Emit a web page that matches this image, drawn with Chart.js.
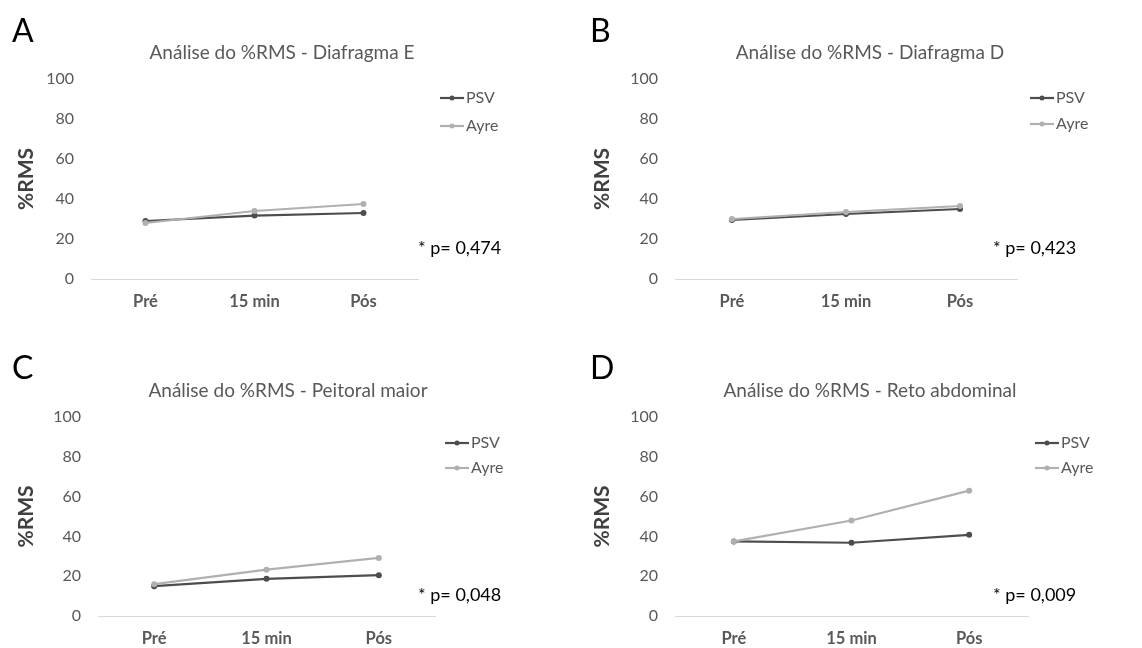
<!DOCTYPE html>
<html>
<head>
<meta charset="utf-8">
<script src="https://cdn.jsdelivr.net/npm/chart.js@4.4.1/dist/chart.umd.min.js"></script>
<style>
  body { margin: 0; background: #fff; }
  #wrap { position: relative; width: 1142px; height: 648px; }
  canvas { position: absolute; }
</style>
</head>
<body>
<div id="wrap"></div>
<script>
// --- dados ---
const categories = ['Pré', '15 min', 'Pós'];
const seriesNames = ['PSV', 'Ayre'];
const panelLetters = ['A', 'B', 'C', 'D'];
const panelTitles = [
    'Análise do %RMS - Diafragma E',
    'Análise do %RMS - Diafragma D',
    'Análise do %RMS - Peitoral maior',
    'Análise do %RMS - Reto abdominal'
];
const pValues = ['* p= 0,474', '* p= 0,423', '* p= 0,048', '* p= 0,009'];
const yTickStep = 20;
const yMax = 100;

const psvA = [29, 31.7, 33];
const ayreA = [28, 34, 37.5];
const psvB = [29.5, 32.5, 35];
const ayreB = [30, 33.5, 36.5];
const psvC = [15, 18.7, 20.5];
const ayreC = [16, 23.3, 29.2];
const psvD = [37.5, 36.8, 40.8];
const ayreD = [37.5, 48, 63];

const psvSeries = [psvA, psvB, psvC, psvD];
const ayreSeries = [ayreA, ayreB, ayreC, ayreD];

// --- layout (px) ---
const W = 571, H = 324;
const FONT = 'Lato';
const psvColor = '#4d4d4d';
const ayreColor = '#b0b0b0';
const textGrey = '#595959';

const panels = [
    { left: 0,   top: 0,   area: { l: 91,  r: 418, t: 79, b: 279 }, letter: [12, 32], title: [282, 53], p: [418, 248], legend: [440, 98, 28],  yTitlePad: 14 },
    { left: 571, top: 0,   area: { l: 104, r: 446, t: 79, b: 279 }, letter: [19, 32], title: [299, 53], p: [422, 248], legend: [459, 98, 26],  yTitlePad: 19 },
    { left: 0,   top: 324, area: { l: 98,  r: 435, t: 93, b: 292 }, letter: [12, 45], title: [288, 67], p: [418, 271], legend: [445, 119, 25], yTitlePad: 14 },
    { left: 571, top: 324, area: { l: 104, r: 457, t: 93, b: 292 }, letter: [19, 45], title: [299, 67], p: [422, 271], legend: [464, 119, 25], yTitlePad: 19 }
];

// textos do painel + legenda no estilo do Excel
const panelText = {
    id: 'panelText',
    afterDraw(chart, args, o) {
        const ctx = chart.ctx;
        ctx.save();
        ctx.textBaseline = 'middle';

        ctx.fillStyle = '#000';
        ctx.font = `32px ${FONT}`;
        ctx.textAlign = 'left';
        ctx.fillText(o.letter, o.L.letter[0], o.L.letter[1]);

        ctx.fillStyle = textGrey;
        ctx.font = `19px ${FONT}`;
        ctx.textAlign = 'center';
        ctx.fillText(o.title, o.L.title[0], o.L.title[1]);

        ctx.fillStyle = '#000';
        ctx.font = `18px ${FONT}`;
        ctx.textAlign = 'left';
        ctx.fillText(o.p, o.L.p[0], o.L.p[1]);

        const [lx, ly, gap] = o.L.legend;
        chart.data.datasets.forEach((ds, k) => {
            const y = ly + k * gap;
            ctx.strokeStyle = ds.borderColor;
            ctx.lineWidth = 2.2;
            ctx.beginPath();
            ctx.moveTo(lx, y);
            ctx.lineTo(lx + 24, y);
            ctx.stroke();
            ctx.fillStyle = ds.borderColor;
            ctx.beginPath();
            ctx.arc(lx + 12, y, 2.5, 0, Math.PI * 2);
            ctx.fill();
            ctx.fillStyle = textGrey;
            ctx.font = `16px ${FONT}`;
            ctx.fillText(ds.label, lx + 26, y);
        });
        ctx.restore();
    }
};

function makePanel(i) {
    const L = panels[i];
    const canvas = document.createElement('canvas');
    canvas.width = W;
    canvas.height = H;
    canvas.style.left = L.left + 'px';
    canvas.style.top = L.top + 'px';
    document.getElementById('wrap').appendChild(canvas);

    new Chart(canvas, {
        type: 'line',
        data: {
            labels: categories,
            datasets: [
                { label: seriesNames[0], data: psvSeries[i], borderColor: psvColor, backgroundColor: psvColor, order: 1 },
                { label: seriesNames[1], data: ayreSeries[i], borderColor: ayreColor, backgroundColor: ayreColor, order: 0 }
            ]
        },
        options: {
            responsive: false,
            animation: false,
            layout: { padding: { left: 0, top: L.area.t, right: W - L.area.r, bottom: 0 } },
            elements: {
                line: { borderWidth: 2.2, tension: 0 },
                point: { radius: 3, borderWidth: 0 }
            },
            plugins: {
                legend: { display: false },
                tooltip: { enabled: false },
                panelText: { L: L, letter: panelLetters[i], title: panelTitles[i], p: pValues[i] }
            },
            scales: {
                x: {
                    offset: true,
                    grid: { display: false, drawTicks: false },
                    border: { color: '#d9d9d9', width: 1 },
                    ticks: { color: textGrey, padding: 13, font: { family: FONT, size: 16.5, weight: 'bold' } },
                    afterFit: s => { s.height = H - L.area.b; }
                },
                y: {
                    min: 0,
                    max: yMax,
                    grid: { display: false, drawTicks: false },
                    border: { display: false },
                    ticks: { stepSize: yTickStep, color: textGrey, padding: 17, font: { family: FONT, size: 16 } },
                    title: { display: true, text: '%RMS', color: '#404040', padding: { top: L.yTitlePad }, font: { family: FONT, size: 21, weight: 'bold' } },
                    afterFit: s => { s.width = L.area.l; }
                }
            }
        },
        plugins: [panelText]
    });
}

for (let i = 0; i < 4; i++) makePanel(i);
</script>
</body>
</html>
